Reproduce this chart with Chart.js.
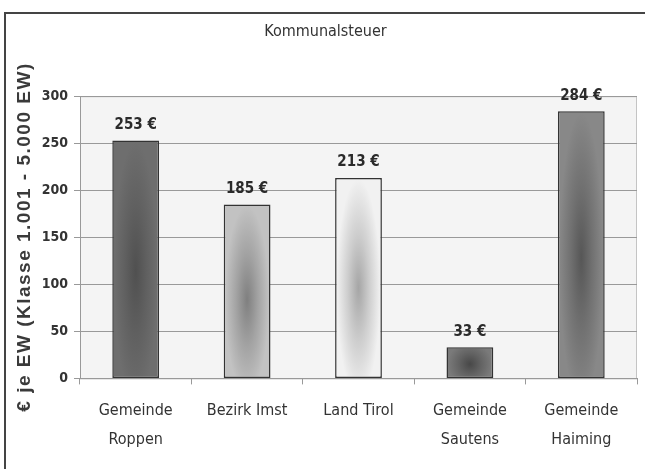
<!DOCTYPE html>
<html>
<head>
<meta charset="utf-8">
<script src="https://cdn.jsdelivr.net/npm/chart.js@4"></script>
<style>
	html, body { margin: 0; padding: 0; background: #fff; }
	#wrap { width: 645px; height: 469px; }
</style>
</head>
<body>
<div id="wrap"><canvas id="steuerChart" width="645" height="469"></canvas></div>
<script>
// Kommunalsteuer chart
const categories = [['Gemeinde', 'Roppen'], 'Bezirk Imst', 'Land Tirol', ['Gemeinde', 'Sautens'], ['Gemeinde', 'Haiming']];
const values = [253, 185, 213, 33, 284];
const yTicks = [0, 50, 100, 150, 200, 250, 300];
const yTitle = '€ je EW (Klasse 1.001 - 5.000 EW)';

// bar shades: base colour and the darker shadow in the middle
const barBase = ['#6e6e6e', '#c2c2c2', '#f1f1f1', '#7a7a7a', '#888888'];
const barShade = ['rgba(70,70,70,', 'rgba(105,105,105,', 'rgba(140,140,140,', 'rgba(55,55,55,', 'rgba(70,70,70,'];

const cond = "'DejaVu Sans Condensed', 'Liberation Sans Narrow', 'Liberation Sans', sans-serif";

// frame, plot background, bar shading, value labels, axis title
const decor = {
	id: 'decor',
	beforeDraw(chart) {
		const c = chart.ctx;
		const a = chart.chartArea;
		c.save();
		c.fillStyle = '#f4f4f4';
		c.fillRect(a.left, a.top, a.right - a.left, a.bottom - a.top);
		c.strokeStyle = '#c4c4c4';
		c.lineWidth = 1;
		c.strokeRect(a.left + 0.5, a.top + 0.5, a.right - a.left - 1, a.bottom - a.top);
		c.strokeStyle = '#444';
		c.lineWidth = 2;
		c.beginPath();
		c.moveTo(5, 469);
		c.lineTo(5, 13);
		c.lineTo(645, 13);
		c.stroke();

		// rotated y title with wide spacing
		c.translate(25, 237);
		c.rotate(-Math.PI / 2);
		c.font = 'bold 19px "Liberation Sans", Arial, sans-serif';
		c.letterSpacing = '1.5px';
		c.fillStyle = '#3a3a3a';
		c.textAlign = 'center';
		c.textBaseline = 'middle';
		c.fillText(yTitle, 0, 0);
		c.restore();
	},
	afterDatasetsDraw(chart) {
		const c = chart.ctx;
		const bars = chart.getDatasetMeta(0).data;
		bars.forEach((bar, i) => {
			const p = bar.getProps(['x', 'y', 'base', 'width']);
			const w = p.width - 3;
			const h = p.base - p.y - 3;
			if (w <= 0 || h <= 0) return;
			c.save();
			c.beginPath();
			c.rect(p.x - w / 2, p.y + 1.5, w, h);
			c.clip();
			const cy = p.y + 1.5 + h * 0.55;
			c.translate(p.x, cy);
			c.scale(1, Math.max(h * 0.55, w / 2) / (w / 2));
			const g = c.createRadialGradient(0, 0, 0, 0, 0, w / 2);
			g.addColorStop(0, barShade[i] + '0.75)');
			g.addColorStop(0.5, barShade[i] + '0.35)');
			g.addColorStop(1, barShade[i] + '0)');
			c.fillStyle = g;
			c.fillRect(-w, -w, w * 2, w * 2);
			c.restore();
		});

		c.save();
		c.font = 'bold 15px ' + cond;
		c.fillStyle = '#2a2a2a';
		c.textAlign = 'center';
		c.textBaseline = 'bottom';
		bars.forEach((bar, i) => {
			c.fillText(values[i] + ' €', bar.x, bar.y - 8);
		});
		c.restore();
	}
};

new Chart(document.getElementById('steuerChart').getContext('2d'), {
	type: 'bar',
	data: {
		labels: categories,
		datasets: [{
			data: values,
			backgroundColor: barBase,
			borderColor: '#333',
			borderWidth: 1.5,
			borderSkipped: false,
			barPercentage: 0.42,
			categoryPercentage: 1
		}]
	},
	options: {
		responsive: false,
		animation: false,
		layout: { padding: { left: 14, right: 8, top: 22, bottom: 3 } },
		plugins: {
			legend: { display: false },
			tooltip: { enabled: false },
			title: {
				display: true,
				text: 'Kommunalsteuer',
				color: '#333',
				font: { family: cond, size: 16, weight: 'normal' },
				padding: { top: 0, bottom: 55 }
			}
		},
		scales: {
			x: {
				grid: { offset: true, drawOnChartArea: false, drawTicks: true, tickLength: 6, color: '#999' },
				border: { color: '#999' },
				ticks: { color: '#333', font: { family: cond, size: 16, lineHeight: 1.8 }, padding: 12, maxRotation: 0 }
			},
			y: {
				min: 0,
				max: 300,
				afterBuildTicks(axis) { axis.ticks = yTicks.map(v => ({ value: v })); },
				afterFit(axis) { axis.width = 66; },
				grid: { color: '#999', tickLength: 6 },
				border: { color: '#999' },
				ticks: { color: '#333', font: { family: cond, size: 14, weight: 'bold' }, padding: 6 }
			}
		}
	},
	plugins: [decor]
});
</script>
</body>
</html>
